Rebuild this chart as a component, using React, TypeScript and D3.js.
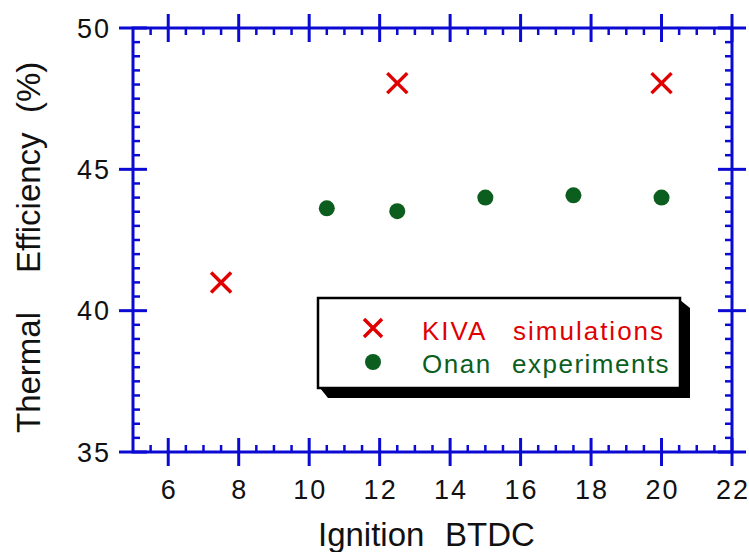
import React, { useRef, useEffect } from "react";
import * as d3 from "d3";

// KIVA simulations (red crosses)
const kivaIgnition = [7.5, 12.5, 20];
const kivaEfficiency = [41.0, 48.05, 48.05];

// Onan experiments (green dots)
const onanIgnition = [10.5, 12.5, 15, 17.5, 20];
const onanEfficiency = [43.62, 43.52, 44.0, 44.08, 44.0];

const xTicks = [6, 8, 10, 12, 14, 16, 18, 20, 22];
const yTicks = [35, 40, 45, 50];

const legendLabels = [["KIVA", "simulations"], ["Onan", "experiments"]];

export default function App() {
  const svgRef = useRef<SVGSVGElement>(null);

  useEffect(() => {
    const W = 749;
    const H = 552;
    const svg = d3.select(svgRef.current).attr("width", W).attr("height", H);
    svg.selectAll("*").remove();

    const left = 133, right = 732, top = 28, bottom = 452;
    const blue = "#0a0ad2";
    const red = "#e00000";
    const green = "#0b5e1e";
    const font = "'Liberation Sans', Arial, sans-serif";

    const x = d3.scaleLinear().domain([5, 22]).range([left, right]);
    const y = d3.scaleLinear().domain([35, 50]).range([bottom, top]);

    const g = svg.append("g");

    // minor ticks, inside only
    const minorX = d3.range(5.5, 22, 0.5).filter((v) => !xTicks.includes(v));
    const minorY = d3.range(35.5, 50, 0.5).filter((v) => !yTicks.includes(v));
    const minorLen = 7;
    const majorLen = 14;

    minorX.forEach((v) => {
      g.append("line").attr("x1", x(v)).attr("x2", x(v)).attr("y1", bottom).attr("y2", bottom - minorLen)
        .attr("stroke", blue).attr("stroke-width", 2.5);
      g.append("line").attr("x1", x(v)).attr("x2", x(v)).attr("y1", top).attr("y2", top + minorLen)
        .attr("stroke", blue).attr("stroke-width", 2.5);
    });
    minorY.forEach((v) => {
      g.append("line").attr("x1", left).attr("x2", left + minorLen).attr("y1", y(v)).attr("y2", y(v))
        .attr("stroke", blue).attr("stroke-width", 2.5);
      g.append("line").attr("x1", right).attr("x2", right - minorLen).attr("y1", y(v)).attr("y2", y(v))
        .attr("stroke", blue).attr("stroke-width", 2.5);
    });

    // major ticks cross the frame
    xTicks.forEach((v) => {
      g.append("line").attr("x1", x(v)).attr("x2", x(v)).attr("y1", bottom - majorLen).attr("y2", bottom + majorLen)
        .attr("stroke", blue).attr("stroke-width", 3);
      g.append("line").attr("x1", x(v)).attr("x2", x(v)).attr("y1", top - majorLen).attr("y2", top + majorLen)
        .attr("stroke", blue).attr("stroke-width", 3);
    });
    yTicks.forEach((v) => {
      g.append("line").attr("x1", left - majorLen).attr("x2", left + majorLen).attr("y1", y(v)).attr("y2", y(v))
        .attr("stroke", blue).attr("stroke-width", 3);
      g.append("line").attr("x1", right - majorLen).attr("x2", right + majorLen).attr("y1", y(v)).attr("y2", y(v))
        .attr("stroke", blue).attr("stroke-width", 3);
    });

    // frame
    g.append("rect").attr("x", left).attr("y", top).attr("width", right - left).attr("height", bottom - top)
      .attr("fill", "none").attr("stroke", blue).attr("stroke-width", 3);

    // tick labels
    xTicks.forEach((v) => {
      g.append("text").attr("x", x(v) + 1).attr("y", 499).attr("text-anchor", "middle")
        .attr("font-family", font).attr("font-size", 27).attr("letter-spacing", 2).attr("fill", "#111")
        .text(v);
    });
    yTicks.forEach((v) => {
      g.append("text").attr("x", 111).attr("y", y(v) + 9.5).attr("text-anchor", "end")
        .attr("font-family", font).attr("font-size", 27).attr("letter-spacing", 2).attr("fill", "#111")
        .text(v);
    });

    // axis titles (words placed with wide gaps like the original)
    const xt = g.append("text").attr("y", 546)
      .attr("font-family", font).attr("font-size", 33).attr("fill", "#111");
    xt.append("tspan").attr("x", 318).text("Ignition");
    xt.append("tspan").attr("x", 445).text("BTDC");

    const yt = g.append("text").attr("transform", "translate(40,433) rotate(-90)")
      .attr("font-family", font).attr("font-size", 33).attr("fill", "#111");
    yt.append("tspan").attr("x", 0).text("Thermal");
    yt.append("tspan").attr("x", 160).text("Efficiency");
    yt.append("tspan").attr("x", 320).text("(%)");

    const cross = (cx: number, cy: number, s: number) => {
      g.append("path")
        .attr("d", `M${cx - s},${cy - s}L${cx + s},${cy + s}M${cx - s},${cy + s}L${cx + s},${cy - s}`)
        .attr("stroke", red).attr("stroke-width", 3.5).attr("fill", "none");
    };

    // data
    kivaIgnition.forEach((v, i) => cross(x(v), y(kivaEfficiency[i]), 10));
    onanIgnition.forEach((v, i) => {
      g.append("circle").attr("cx", x(v)).attr("cy", y(onanEfficiency[i])).attr("r", 8).attr("fill", green);
    });

    // legend with drop shadow
    const lx = 318, ly = 298, lw = 362, lh = 90, sh = 10;
    g.append("path")
      .attr("d", `M${lx + lw},${ly + 2}L${lx + lw + sh},${ly + sh}L${lx + lw + sh},${ly + lh + sh}L${lx + sh},${ly + lh + sh}L${lx + 2},${ly + lh}Z`)
      .attr("fill", "#000");
    g.append("rect").attr("x", lx).attr("y", ly).attr("width", lw).attr("height", lh)
      .attr("fill", "#fff").attr("stroke", "#000").attr("stroke-width", 2.5);
    cross(373, 328, 9);
    g.append("circle").attr("cx", 373).attr("cy", 362).attr("r", 8).attr("fill", green);

    const l1 = g.append("text").attr("y", 340).attr("font-family", font).attr("font-size", 26)
      .attr("letter-spacing", 2).attr("fill", red);
    l1.append("tspan").attr("x", 422).text(legendLabels[0][0]);
    l1.append("tspan").attr("x", 513).text(legendLabels[0][1]);
    const l2 = g.append("text").attr("y", 373).attr("font-family", font).attr("font-size", 26)
      .attr("letter-spacing", 1.5).attr("fill", green);
    l2.append("tspan").attr("x", 422).text(legendLabels[1][0]);
    l2.append("tspan").attr("x", 512).text(legendLabels[1][1]);
  }, []);

  return (
    <svg ref={svgRef} style={{ position: "absolute", left: 0, top: 0, background: "#fff" }}></svg>
  );
}
